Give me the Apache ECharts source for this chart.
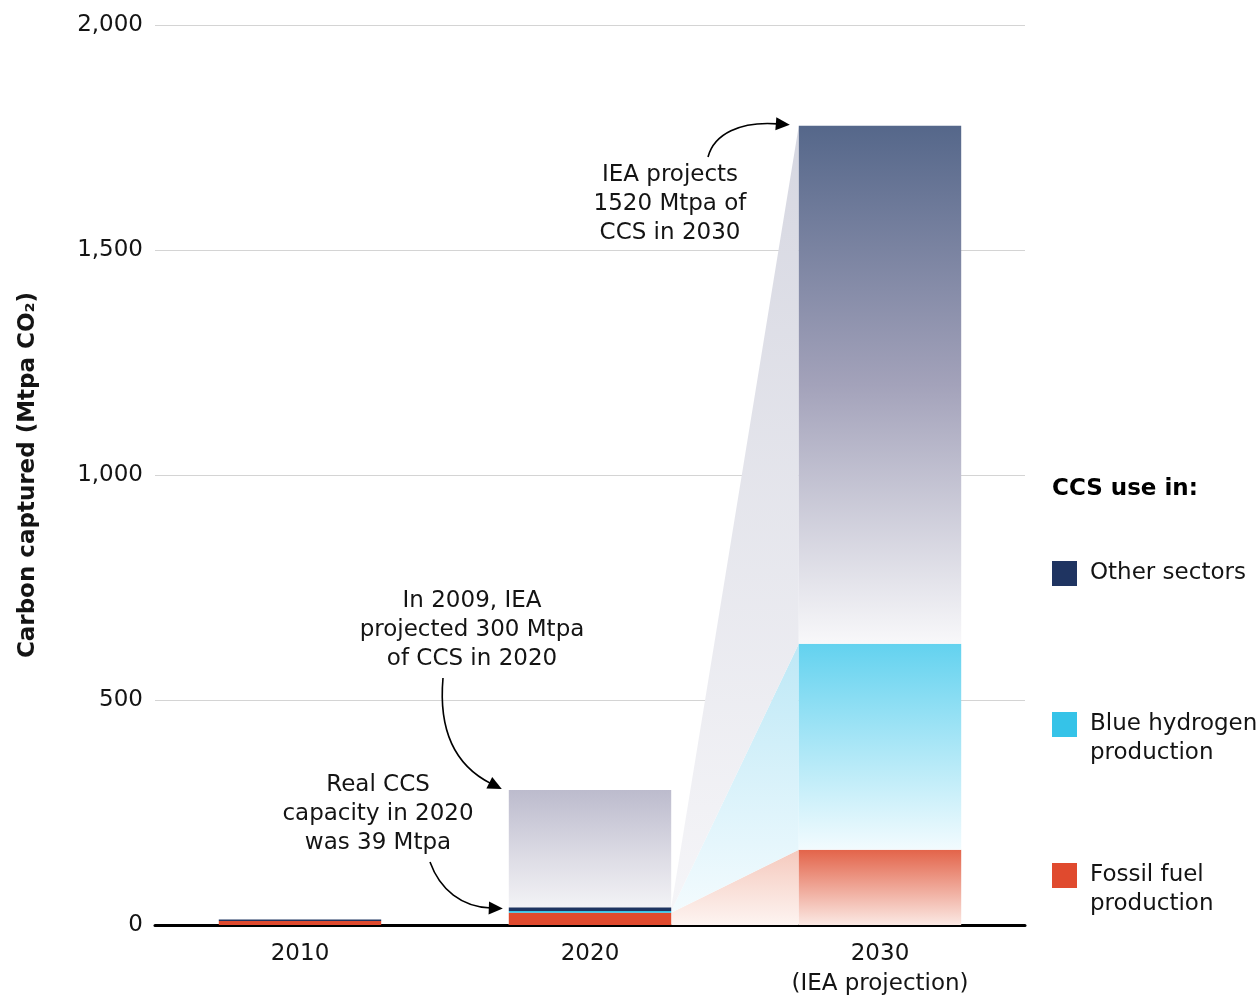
<!DOCTYPE html>
<html>
<head>
<meta charset="utf-8">
<script src="https://cdn.jsdelivr.net/npm/echarts@6/dist/echarts.min.js"></script>
<style>
  html, body { margin: 0; padding: 0; background: #fff; }
  #chart { width: 1259px; height: 996px; }
</style>
</head>
<body>
<div id="chart"></div>
<script>
// values (Mtpa CO2)
const years = ['2010', '2020', '2030\n(IEA projection)'];
const fossilFuel = [9, 27, 167];
const blueHydrogen = [0, 4, 458];
const otherSectors = [3, 8, 1151];
const projected2009 = [null, 300, null];
const yTicks = [0, 500, 1000, 1500, 2000];

const legendItems = ['Other sectors', 'Blue hydrogen\nproduction', 'Fossil fuel\nproduction'];
const notes = [
  'IEA projects\n1520 Mtpa of\nCCS in 2030',
  'In 2009, IEA\nprojected 300 Mtpa\nof CCS in 2020',
  'Real CCS\ncapacity in 2020\nwas 39 Mtpa'
];

const FONT = '"DejaVu Sans", sans-serif';
const TEXT = '#141414';
const navy = '#1f3461';
const cyan = '#35c3e8';
const red = '#e04a2e';

const grad = (stops) => new echarts.graphic.LinearGradient(0, 0, 0, 1,
  stops.map((c, i) => ({ offset: i / (stops.length - 1), color: c })));

// faded fills for the projected 2030 bar
const fade = {
  fossil: grad(['#e3644a', '#fbe9e4']),
  blue: grad(['#63d2ef', '#f2fbfe']),
  other: grad(['#55678a', '#a3a2ba', '#f8f8fa'])
};
const wedgeFills = [
  grad(['#f5c9bd', '#fdf4f1']),
  grad(['#bde8f6', '#f3fbfe']),
  grad(['#d6d7e1', '#f5f5f8'])
];

const stackData = (values, solid, faded) =>
  values.map((v, i) => ({ value: v, itemStyle: { color: i === 2 ? faded : solid } }));

// cumulative tops for each year: [0, fossil, +blue, +other]
const cum = (i) => [0, fossilFuel[i], fossilFuel[i] + blueHydrogen[i], fossilFuel[i] + blueHydrogen[i] + otherSectors[i]];
const c20 = cum(1);
const c30 = cum(2);
const wedges = [0, 1, 2].map(k => [c20[k], c20[k + 1], c30[k], c30[k + 1]]);

const BAR = 0.56;

const chart = echarts.init(document.getElementById('chart'));

chart.setOption({
  animation: false,
  textStyle: { fontFamily: FONT },
  grid: { left: 155, width: 870, top: 25, height: 900, outerBoundsMode: 'none', containLabel: false },
  xAxis: {
    type: 'category',
    data: years,
    axisTick: { show: false },
    axisLine: { lineStyle: { color: '#000', width: 3 } },
    axisLabel: { color: TEXT, fontSize: 23, lineHeight: 30, margin: 14, fontFamily: FONT }
  },
  yAxis: {
    type: 'value',
    min: 0,
    max: 2000,
    interval: 500,
    name: 'Carbon captured (Mtpa CO₂)',
    nameLocation: 'middle',
    nameGap: 115,
    nameTextStyle: { color: TEXT, fontSize: 23, fontWeight: 'bold', fontFamily: FONT },
    axisLine: { show: false },
    axisTick: { show: false },
    axisLabel: {
      color: TEXT, fontSize: 23, margin: 12, fontFamily: FONT,
      formatter: v => yTicks.includes(v) ? v.toLocaleString('en-US') : ''
    },
    splitLine: { lineStyle: { color: '#d4d4d4', width: 1 } }
  },
  series: [
    {
      type: 'custom',
      name: 'wedges',
      z: 1,
      silent: true,
      clip: false,
      data: wedges.map(w => [1, w[3]]),
      encode: { x: 0, y: 1 },
      renderItem: (params, api) => {
        const w = wedges[params.dataIndex];
        const half = api.size([1, 0])[0] * BAR / 2;
        const a = api.coord([1, w[0]]);
        const b = api.coord([1, w[1]]);
        const c = api.coord([2, w[3]]);
        const d = api.coord([2, w[2]]);
        const x1 = a[0] + half;
        const x2 = c[0] - half;
        return {
          type: 'polygon',
          shape: { points: [[x1, a[1]], [x1, b[1]], [x2, c[1]], [x2, d[1]]] },
          style: { fill: wedgeFills[params.dataIndex] }
        };
      }
    },
    {
      type: 'bar',
      name: 'IEA 2009 projection',
      z: 2,
      barWidth: (BAR * 100) + '%',
      barGap: '-100%',
      data: projected2009,
      itemStyle: { color: grad(['#bcbbcd', '#dddce5', '#fafafb']) }
    },
    {
      type: 'bar',
      name: 'Fossil fuel production',
      stack: 'total',
      z: 3,
      barWidth: (BAR * 100) + '%',
      barGap: '-100%',
      data: stackData(fossilFuel, red, fade.fossil)
    },
    {
      type: 'bar',
      name: 'Blue hydrogen production',
      stack: 'total',
      z: 3,
      barWidth: (BAR * 100) + '%',
      barGap: '-100%',
      data: stackData(blueHydrogen, cyan, fade.blue)
    },
    {
      type: 'bar',
      name: 'Other sectors',
      stack: 'total',
      z: 3,
      barWidth: (BAR * 100) + '%',
      barGap: '-100%',
      data: stackData(otherSectors, navy, fade.other)
    }
  ]
});

// annotations, arrows and legend sit on top of the drawn chart
const px = (cat, v) => chart.convertToPixel({ xAxisIndex: 0, yAxisIndex: 0 }, [cat, v]);
const halfBar = (px(1, 0)[0] - px(0, 0)[0]) * BAR / 2;

function arrow(p0, p1, p2, tip) {
  const dx = tip[0] - p2[0];
  const dy = tip[1] - p2[1];
  const len = Math.sqrt(dx * dx + dy * dy);
  const ux = dx / len, uy = dy / len;
  const headLen = 14, headHalf = 6.5;
  const base = [tip[0] - ux * headLen, tip[1] - uy * headLen];
  return [
    {
      type: 'bezierCurve',
      shape: { x1: p0[0], y1: p0[1], cpx1: p1[0], cpy1: p1[1], cpx2: p2[0], cpy2: p2[1], x2: base[0] + ux * 2, y2: base[1] + uy * 2 },
      style: { stroke: '#000', lineWidth: 1.6, fill: null },
      z: 10
    },
    {
      type: 'polygon',
      shape: { points: [tip, [base[0] - uy * headHalf, base[1] + ux * headHalf], [base[0] + uy * headHalf, base[1] - ux * headHalf]] },
      style: { fill: '#000' },
      z: 10
    }
  ];
}

function note(text, x, y) {
  return {
    type: 'text',
    x, y,
    z: 10,
    style: { text, fill: TEXT, font: '23px ' + FONT, lineHeight: 29, align: 'center', verticalAlign: 'top' }
  };
}

const t30 = px(2, c30[3]); t30[0] -= halfBar + 9;
const t300 = px(1, projected2009[1]); t300[0] -= halfBar + 7;
const t39 = px(1, c20[3]); t39[0] -= halfBar + 6;

const graphics = [
  note(notes[0], 670, 161),
  note(notes[1], 472, 587),
  note(notes[2], 378, 771),
  ...arrow([708, 157], [714, 134], [740, 121], [t30[0], t30[1] - 1]),
  ...arrow([443, 678], [438, 735], [458, 767], [t300[0], t300[1] - 1]),
  ...arrow([430, 862], [440, 890], [462, 907], [t39[0], t39[1] + 1])
];

// legend
const legendColors = [navy, cyan, red];
const legendTops = [561, 712, 863];
graphics.push({
  type: 'text', x: 1052, y: 489, z: 10,
  style: { text: 'CCS use in:', fill: '#000', font: 'bold 23px ' + FONT, verticalAlign: 'middle' }
});
legendItems.forEach((label, i) => {
  graphics.push({
    type: 'rect', z: 10,
    shape: { x: 1052, y: legendTops[i], width: 25, height: 25 },
    style: { fill: legendColors[i] }
  });
  graphics.push({
    type: 'text', x: 1090, y: legendTops[i] - 2, z: 10,
    style: { text: label, fill: TEXT, font: '23px ' + FONT, lineHeight: 29, verticalAlign: 'top' }
  });
});

chart.setOption({ graphic: graphics });
</script>
</body>
</html>
